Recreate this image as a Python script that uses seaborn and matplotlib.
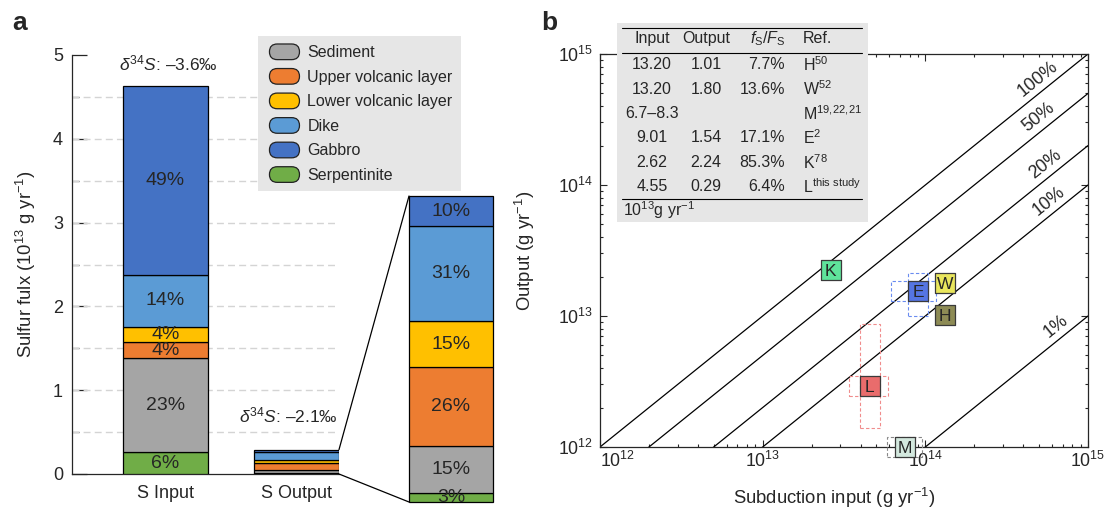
import numpy as np
import pandas as pd
import matplotlib
matplotlib.use("Agg")
import matplotlib.pyplot as plt
import seaborn as sns
from matplotlib.patches import Rectangle, FancyBboxPatch, Patch, ConnectionPatch
from matplotlib.legend_handler import HandlerPatch
from matplotlib.ticker import MultipleLocator, LogLocator, NullFormatter

# ---------------- data ----------------
layers = ["Sediment", "Upper volcanic layer", "Lower volcanic layer", "Dike", "Gabbro", "Serpentinite"]
layer_colors = ["#a5a5a5", "#ed7d31", "#ffc000", "#5b9bd5", "#4472c4", "#70ad47"]
stack_order = ["Serpentinite", "Sediment", "Upper volcanic layer", "Lower volcanic layer", "Dike", "Gabbro"]

bar_names = ["S Input", "S Output"]
input_flux = [0.26, 1.12, 0.19, 0.19, 0.62, 2.25]        # 10^13 g/yr, bottom -> top
input_pct = ["6%", "23%", "4%", "4%", "14%", "49%"]
output_flux = [0.009, 0.044, 0.075, 0.044, 0.090, 0.029]
output_pct = ["3%", "15%", "26%", "15%", "31%", "10%"]
d34s_text = ["–3.6‰", "–2.1‰"]

# flux compilation table (10^13 g/yr)
tab_input = ["13.20", "13.20", "6.7–8.3", "9.01", "2.62", "4.55"]
tab_output = ["1.01", "1.80", "", "1.54", "2.24", "0.29"]
tab_ratio = ["7.7%", "13.6%", "", "17.1%", "85.3%", "6.4%"]
tab_ref = ["H", "W", "M", "E", "K", "L"]
tab_cite = ["50", "52", "19,22,21", "2", "78", "this study"]

# estimates plotted in panel b (10^13 g/yr)
pt_label = ["K", "E", "W", "H", "L", "M"]
pt_input = [2.62, 9.01, 13.2, 13.2, 4.55, 7.5]
pt_output = [2.24, 1.54, 1.80, 1.01, 0.29, 0.10]
pt_colors = ["#5fe39b", "#5575e2", "#e9e65d", "#8d8b55", "#e96c6c", "#d3e8de"]

# uncertainty ranges (10^13 g/yr)
rng_label = ["E", "L", "M"]
rng_in_lo = [7.05, 3.91, 6.7]
rng_in_hi = [10.1, 5.12, 8.3]
rng_out_lo = [1.19, 0.166, np.nan]
rng_out_hi = [1.80, 0.733, np.nan]
rng_colors = ["#6a8cf0", "#f08c8c", "#888888"]

fractions = [1.0, 0.5, 0.2, 0.1, 0.01]
frac_labels = ["100%", "50%", "20%", "10%", "1%"]
frac_label_pos = [14.74, 14.745, 14.785, 14.805, 14.85]   # log10 input where labels sit
decades = [1e12, 1e13, 1e14, 1e15]

# ---------------- style ----------------
sns.set_style("ticks")
plt.rcParams["font.family"] = ["Liberation Sans", "DejaVu Sans"]
plt.rcParams["mathtext.fontset"] = "custom"
plt.rcParams["mathtext.rm"] = "Liberation Sans"
plt.rcParams["mathtext.it"] = "Liberation Sans:italic"
plt.rcParams["mathtext.bf"] = "Liberation Sans:bold"
plt.rcParams["axes.linewidth"] = 0.9

W, H = 1107, 508
fig = plt.figure(figsize=(W / 100, H / 100), dpi=100)


def fbox(x0, y0, x1, y1):
    """Figure-fraction rectangle from pixel corners (top-left origin)."""
    return [x0 / W, 1 - y1 / H, (x1 - x0) / W, (y1 - y0) / H]


color_of = dict(zip(layers, layer_colors))

# ---------------- panel a ----------------
axa = fig.add_axes(fbox(72, 55, 339, 474))
bar_w = 0.649
xpos = np.arange(len(bar_names))
bottom = np.zeros(2)
seg_mid = []
for k, name in enumerate(stack_order):
    vals = np.array([input_flux[k], output_flux[k]])
    axa.bar(xpos, vals, bottom=bottom, width=bar_w, color=color_of[name],
            edgecolor="black", linewidth=0.9, zorder=3)
    seg_mid.append(bottom[0] + vals[0] / 2)
    bottom = bottom + vals
totals = bottom.copy()

for k, lab in enumerate(input_pct):
    axa.text(0, seg_mid[k], lab, ha="center", va="center", fontsize=14, zorder=4)

for yv in np.arange(0.5, 5.0, 0.5):
    axa.axhline(yv, color="#d4d4d4", lw=1.0, ls=(0, (5, 3)), zorder=1)

axa.set_xlim(-0.714, 1 + bar_w / 2)
axa.set_ylim(0, 5)
axa.set_xticks(xpos)
axa.set_xticklabels(bar_names, fontsize=13)
axa.yaxis.set_major_locator(MultipleLocator(1))
axa.yaxis.set_minor_locator(MultipleLocator(0.5))
axa.tick_params(axis="y", which="major", direction="in", length=10.5, width=0.9, labelsize=13, pad=6.5)
axa.tick_params(axis="y", which="minor", direction="in", length=5, width=0.9)
axa.tick_params(axis="x", length=0, pad=8)
for s in ["top", "right"]:
    axa.spines[s].set_visible(False)
axa.set_ylabel("Sulfur fulx (10$^{13}$ g yr$^{-1}$)", fontsize=13.3)
axa.yaxis.set_label_coords(-0.127, 0.5)

axa.annotate(r"$\delta^{34}S$: " + d34s_text[0], xy=(0, totals[0]), xytext=(3, 13),
             textcoords="offset pixels", ha="center", va="bottom", fontsize=12.5)
axa.annotate(r"$\delta^{34}S$: " + d34s_text[1], xy=(1, totals[1]), xytext=(-8, 24),
             textcoords="offset pixels", ha="center", va="bottom", fontsize=12.5)

PILL_SHIFT = 2.5  # points


class PillHandler(HandlerPatch):
    def create_artists(self, legend, orig_handle, xdescent, ydescent, width, height, fontsize, trans):
        p = FancyBboxPatch((-xdescent + PILL_SHIFT, -ydescent), width - PILL_SHIFT, height,
                           boxstyle=f"round,pad=0,rounding_size={height / 2}",
                           facecolor=orig_handle.get_facecolor(), edgecolor="#222222", lw=0.9)
        p.set_transform(trans)
        return [p]


handles = [Patch(facecolor=c, edgecolor="#222222", label=l) for l, c in zip(layers, layer_colors)]
leg = axa.legend(handles=handles, loc="upper left", bbox_to_anchor=(258 / W, 1 - 36 / H),
                 bbox_transform=fig.transFigure, borderaxespad=0, fontsize=11.5,
                 handlelength=1.88 + PILL_SHIFT / 11.5, handleheight=1.13, labelspacing=0.52,
                 handletextpad=0.5, borderpad=0.5, frameon=True, fancybox=False, framealpha=1,
                 handler_map={Patch: PillHandler()})
leg.get_frame().set_facecolor("#e6e6e6")
leg.get_frame().set_edgecolor("none")
leg.set_zorder(6)

# zoomed view of the output bar
axi = fig.add_axes(fbox(409, 196, 493, 502))
b = 0.0
for k, name in enumerate(stack_order):
    v = output_flux[k]
    axi.bar(0, v, bottom=b, width=1.0, color=color_of[name], edgecolor="black",
            linewidth=0.9, clip_on=False)
    axi.text(0, b + v / 2, output_pct[k], ha="center", va="center", fontsize=14, clip_on=True)
    b += v
axi.set_xlim(-0.5, 0.5)
axi.set_ylim(0, totals[1])
axi.set_axis_off()

for yv in (totals[1], 0.0):
    con = ConnectionPatch(xyA=(1 + bar_w / 2, yv), coordsA=axa.transData,
                          xyB=(-0.5, yv), coordsB=axi.transData, color="black", lw=0.9)
    fig.add_artist(con)

# ---------------- panel b ----------------
axb = fig.add_axes(fbox(600, 54, 1088, 447))
axb.set_xscale("log")
axb.set_yscale("log")

line_df = pd.DataFrame([(lab, x, f * x) for f, lab in zip(fractions, frac_labels) for x in (1e12, 1e15)],
                       columns=["ratio", "input", "output"])
sns.lineplot(data=line_df, x="input", y="output", hue="ratio", palette=["black"] * len(fractions),
             legend=False, lw=0.9, ax=axb)
axb.set_xlim(decades[0], decades[-1])
axb.set_ylim(decades[0], decades[-1])

bb = axb.get_window_extent()
p0 = axb.transData.transform((decades[0], decades[0]))
p1 = axb.transData.transform((decades[-1], decades[-1]))
ang = np.degrees(np.arctan2(p1[1] - p0[1], p1[0] - p0[0]))
perp = 12
for f, lab, lx in zip(fractions, frac_labels, frac_label_pos):
    xv = 10 ** lx
    axb.annotate(lab, xy=(xv, f * xv), xytext=(-perp * np.sin(np.radians(ang)), perp * np.cos(np.radians(ang))),
                 textcoords="offset pixels", rotation=ang, rotation_mode="anchor",
                 ha="center", va="center", fontsize=13)

# uncertainty boxes (padded by half a marker)
dex_x = 3 / bb.width
dex_y = 3 / bb.height
half = 10
px = 10 ** (half * dex_x)
py = 10 ** (half * dex_y)
pos = {l: (xi * 1e13, yi * 1e13) for l, xi, yi in zip(pt_label, pt_input, pt_output)}
for l, xlo, xhi, ylo, yhi, c in zip(rng_label, rng_in_lo, rng_in_hi, rng_out_lo, rng_out_hi, rng_colors):
    cx, cy = pos[l]
    x0, x1 = xlo * 1e13 / px, xhi * 1e13 * px
    axb.add_patch(Rectangle((x0, cy / py), x1 - x0, cy * py - cy / py, fill=False, ec=c,
                            lw=0.8, ls=(0, (3, 2)), clip_on=False, zorder=4))
    if not np.isnan(ylo):
        y0, y1 = ylo * 1e13 / py, yhi * 1e13 * py
        axb.add_patch(Rectangle((cx / px, y0), cx * px - cx / px, y1 - y0, fill=False, ec=c,
                                lw=0.8, ls=(0, (3, 2)), clip_on=False, zorder=4))

pts = pd.DataFrame({"label": pt_label, "input": np.array(pt_input) * 1e13,
                    "output": np.array(pt_output) * 1e13})
sns.scatterplot(data=pts, x="input", y="output", hue="label", palette=pt_colors, marker="s",
                s=207, edgecolor="#3a3a3a", linewidth=0.9, legend=False, clip_on=False,
                zorder=5, ax=axb)
for l, xi, yi in zip(pts["label"], pts["input"], pts["output"]):
    axb.text(xi, yi, l, ha="center", va="center_baseline", fontsize=12.5, zorder=6, clip_on=False)

axb.set_xticks(decades)
axb.set_yticks(decades)
axb.xaxis.set_minor_locator(LogLocator(base=10, subs=np.arange(2, 10), numticks=20))
axb.yaxis.set_minor_locator(LogLocator(base=10, subs=np.arange(2, 10), numticks=20))
axb.xaxis.set_minor_formatter(NullFormatter())
axb.yaxis.set_minor_formatter(NullFormatter())
axb.set_xlim(decades[0], decades[-1])
axb.set_ylim(decades[0], decades[-1])
axb.tick_params(which="both", direction="in", top=True, right=True, width=0.8)
axb.tick_params(which="major", length=5, labelsize=12.8)
axb.tick_params(which="minor", length=2.5)
axb.tick_params(axis="x", which="major", pad=3)
axb.tick_params(axis="y", which="major", pad=5)
axb.set_xlabel("Subduction input (g yr$^{-1}$)", fontsize=13.3)
axb.set_ylabel("Output (g yr$^{-1}$)", fontsize=13.3)
axb.xaxis.set_label_coords(0.479, -0.098)
axb.yaxis.set_label_coords(-0.129, 0.5)
fig.canvas.draw()
for t in axb.xaxis.get_major_ticks():
    if np.isclose(t.get_loc(), decades[0]):
        t.label1.set_horizontalalignment("left")

# flux compilation table
tab = fig.add_axes(fbox(617, 23, 868, 222))
tab.set_facecolor("#e6e6e6")
tab.set_xlim(0, 251)
tab.set_ylim(199, 0)
tab.set_xticks([])
tab.set_yticks([])
for s in tab.spines.values():
    s.set_visible(False)
for yv in (5.3, 29.7, 176.3):
    tab.plot([5, 245], [yv, yv], color="black", lw=0.8)
tfs = 11.5
tab.text(35, 15.7, "Input", ha="center", va="center", fontsize=tfs)
tab.text(89, 15.7, "Output", ha="center", va="center", fontsize=tfs)
tab.text(151, 15.7, r"$f_\mathrm{S}/F_\mathrm{S}$", ha="center", va="center", fontsize=tfs)
tab.text(186, 15.7, "Ref.", ha="left", va="center", fontsize=tfs)
row_y = 41.7 + 24.4 * np.arange(len(tab_input))
for yv, a, o, r, ref, cite in zip(row_y, tab_input, tab_output, tab_ratio, tab_ref, tab_cite):
    tab.text(35, yv, a, ha="center", va="center", fontsize=tfs)
    tab.text(89, yv, o, ha="center", va="center", fontsize=tfs)
    tab.text(168, yv, r, ha="right", va="center", fontsize=tfs)
    cite_tex = cite.replace(" ", r"\ ").replace(",", r",\!")
    tab.text(186, yv, ref + r"$^{\mathrm{" + cite_tex + "}}$", ha="left", va="center", fontsize=tfs)
tab.text(6, 187, "10$^{13}$g yr$^{-1}$", ha="left", va="center", fontsize=tfs)

# panel letters
fig.text(12.5 / W, 1 - 23.5 / H, "a", fontsize=19, fontweight="bold", ha="left", va="center")
fig.text(541 / W, 1 - 23.5 / H, "b", fontsize=19, fontweight="bold", ha="left", va="center")

fig.savefig("out.png", dpi=100)
